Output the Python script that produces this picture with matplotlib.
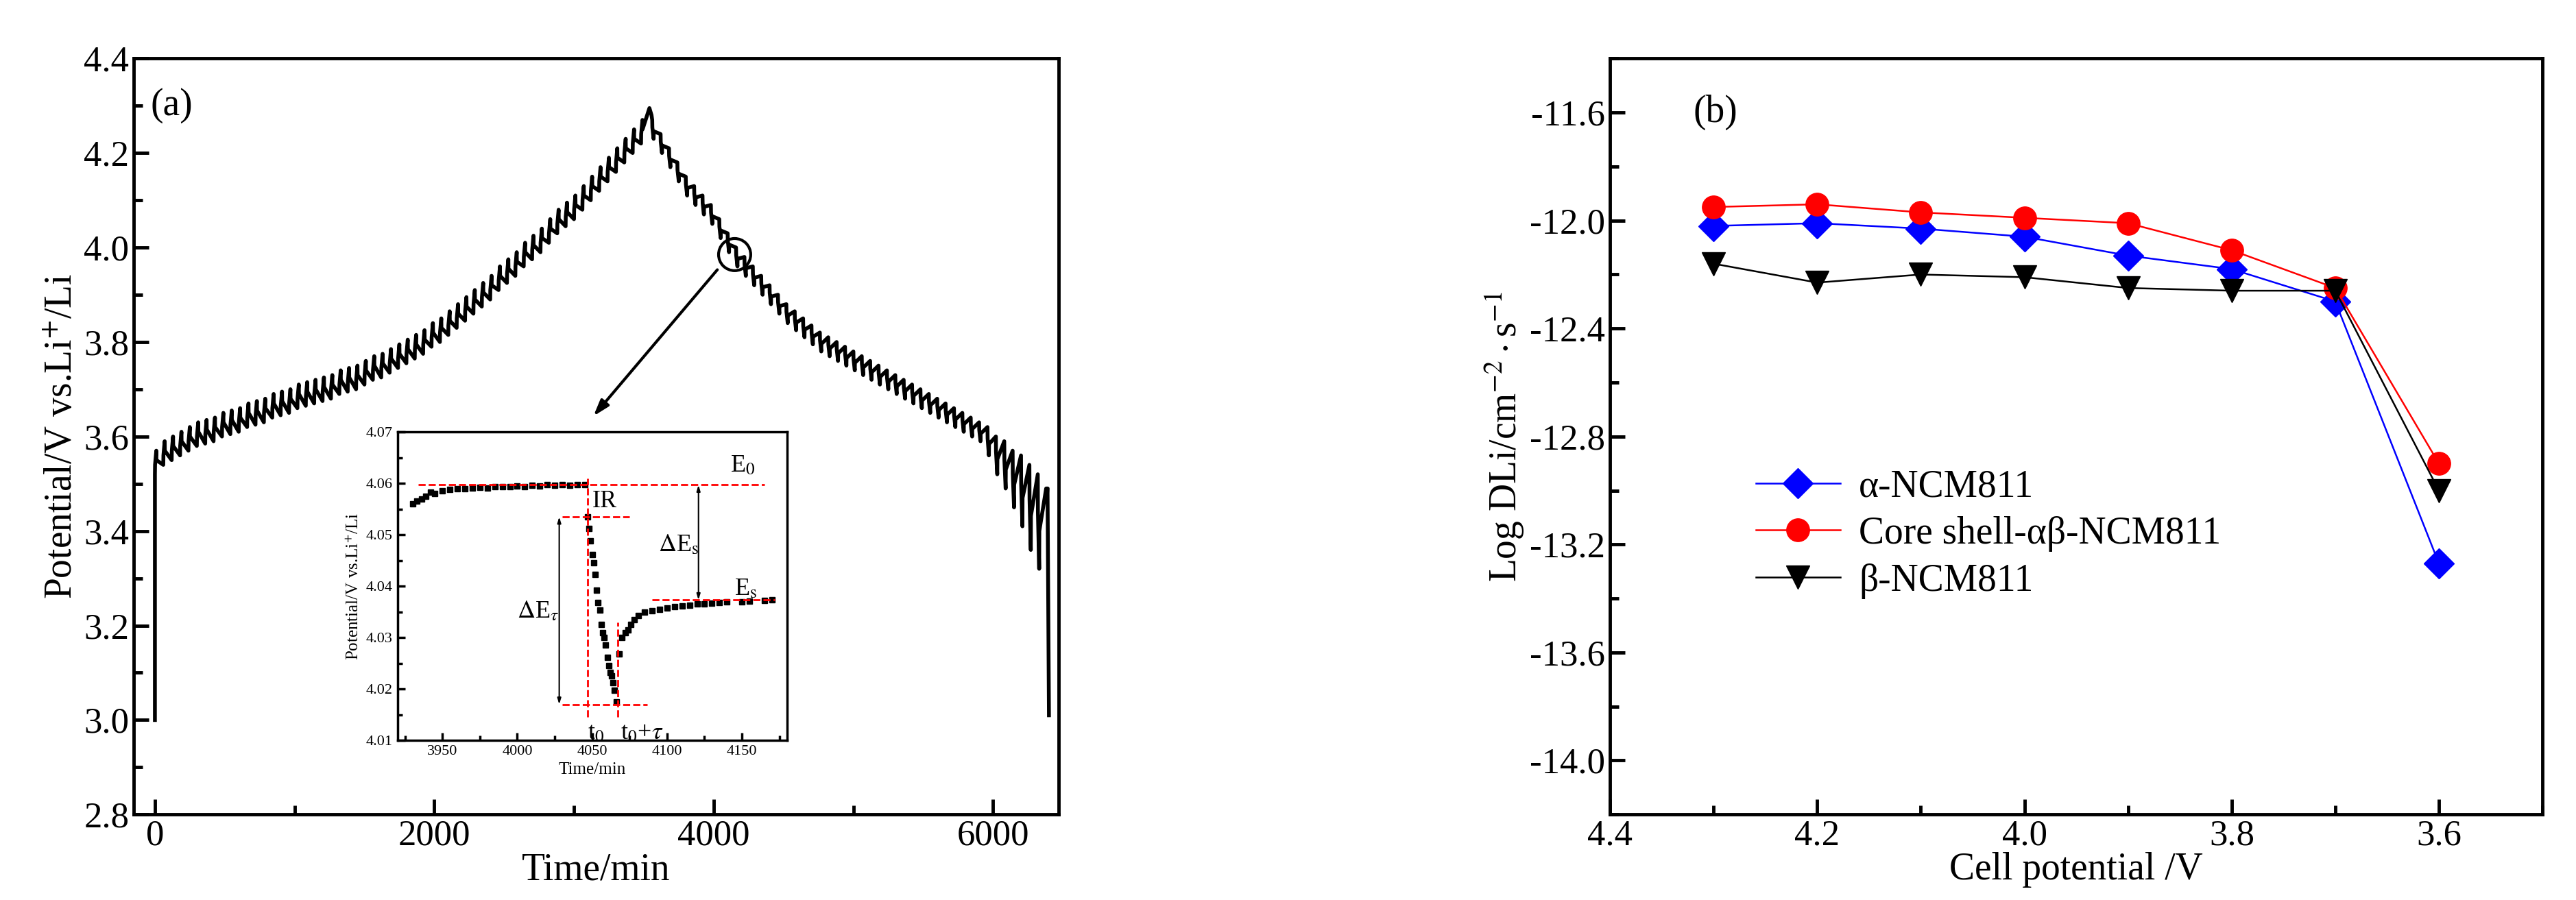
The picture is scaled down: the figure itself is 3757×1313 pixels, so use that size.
import numpy as np
import matplotlib.pyplot as plt
from matplotlib.patches import Ellipse
from matplotlib.ticker import MultipleLocator

plt.rcParams['font.family'] = ['Liberation Serif', 'DejaVu Serif']
plt.rcParams['mathtext.fontset'] = 'stix'
plt.rcParams['axes.unicode_minus'] = False

# (a) GITT: relaxed potential at the start of each pulse
charge_start = 0
pulse_period = 60
charge_v = [3.52, 3.54, 3.55, 3.56, 3.57, 3.58, 3.585, 3.59, 3.60, 3.605,
            3.61, 3.62, 3.625, 3.63, 3.64, 3.645, 3.65, 3.66, 3.665, 3.67,
            3.675, 3.68, 3.69, 3.695, 3.70, 3.71, 3.72, 3.725, 3.735, 3.745,
            3.755, 3.765, 3.775, 3.79, 3.80, 3.815, 3.83, 3.845, 3.86, 3.875,
            3.89, 3.91, 3.925, 3.94, 3.96, 3.975, 3.99, 4.01, 4.03, 4.045,
            4.06, 4.08, 4.10, 4.12, 4.14, 4.16, 4.18, 4.20, 4.22]
discharge_start = 3560
discharge_v = [4.27, 4.24, 4.21, 4.18, 4.15, 4.13, 4.11, 4.09, 4.06, 4.03,
               4.00, 3.98, 3.96, 3.94, 3.92, 3.90, 3.88, 3.865, 3.85, 3.835,
               3.82, 3.81, 3.80, 3.79, 3.78, 3.77, 3.76, 3.75, 3.74, 3.73,
               3.72, 3.71, 3.70, 3.69, 3.68, 3.67, 3.66, 3.65, 3.64, 3.63,
               3.62, 3.60, 3.59, 3.57, 3.56, 3.54, 3.52, 3.49]
discharge_depth = [0.04] * 40 + [0.06, 0.08, 0.10, 0.12, 0.15, 0.18, 0.20, 0.0]

# inset data
t_rest1 = [3930, 3933, 3936, 3939, 3942, 3945, 3950, 3955, 3960, 3965, 3970, 3975, 3980,
           3985, 3990, 3995, 4000, 4005, 4010, 4015, 4020, 4025, 4030, 4035, 4040, 4045]
v_rest1 = [4.0560, 4.0566, 4.0570, 4.0575, 4.0583, 4.0580, 4.0585, 4.0588, 4.0590, 4.0590,
           4.0591, 4.0592, 4.0591, 4.0593, 4.0594, 4.0594, 4.0595, 4.0594, 4.0596, 4.0595,
           4.0597, 4.0596, 4.0598, 4.0596, 4.0597, 4.0597]
t_pulse = list(range(4047, 4067))
v_pulse = [4.0535, 4.0512, 4.0488, 4.0462, 4.0445, 4.0423, 4.0392, 4.0368, 4.0353, 4.0325,
           4.0310, 4.0300, 4.0285, 4.0262, 4.0245, 4.0232, 4.0225, 4.0212, 4.0198, 4.0175]
t_rest2 = [4068, 4070, 4072, 4074, 4076, 4078, 4081, 4085, 4090, 4095, 4100, 4105, 4110,
           4115, 4120, 4125, 4130, 4135, 4140, 4150, 4155, 4165, 4170]
v_rest2 = [4.0268, 4.0300, 4.0310, 4.0315, 4.0325, 4.0335, 4.0343, 4.0350, 4.0352, 4.0355,
           4.0357, 4.0360, 4.0362, 4.0363, 4.0365, 4.0366, 4.0367, 4.0368, 4.0369, 4.0370,
           4.0371, 4.0372, 4.0373]

# (b) diffusion coefficients
cell_v = [4.3, 4.2, 4.1, 4.0, 3.9, 3.8, 3.7, 3.6]
d_alpha = [-12.02, -12.01, -12.03, -12.06, -12.13, -12.18, -12.30, -13.27]
d_core = [-11.95, -11.94, -11.97, -11.99, -12.01, -12.11, -12.25, -12.90]
d_beta = [-12.16, -12.23, -12.20, -12.21, -12.25, -12.26, -12.26, -13.00]

# build the step curve
tt, vv = [0, 0], [3.0, charge_v[0]]
for i, v in enumerate(charge_v):
    t = charge_start + i * pulse_period
    tt += [t, t + 1, t + 10, t + 11]
    vv += [v, v + 0.02, v + 0.05, v + 0.03]
tt += [3540, 3555]
vv += [4.295, 4.28]
for i, v in enumerate(discharge_v):
    t = discharge_start + i * pulse_period
    d = discharge_depth[i]
    tt += [t, t + 1, t + 10, t + 11]
    vv += [v, v - d * 0.4, v - d, v - d * 0.6]
tt += [6390, 6400]
vv += [3.48, 3.01]

fig = plt.figure(figsize=(37.57, 13.13), dpi=100)
ax1 = fig.add_axes([0.052, 0.095, 0.359, 0.84])
ax2 = fig.add_axes([0.625, 0.095, 0.362, 0.84])

def style(ax, fs=38, lw=3.5, ml=16, pad=5):
    for s in ax.spines.values():
        s.set_linewidth(lw)
    ax.tick_params(which='both', direction='in', width=lw, labelsize=fs, pad=pad)
    ax.tick_params(which='major', length=ml)
    ax.tick_params(which='minor', length=ml * 0.6)

ax1.plot(tt, vv, color='black', lw=4)
ax1.set_xlim(-150, 6470)
ax1.set_ylim(2.8, 4.4)
ax1.xaxis.set_major_locator(MultipleLocator(2000))
ax1.xaxis.set_minor_locator(MultipleLocator(1000))
ax1.yaxis.set_major_locator(MultipleLocator(0.2))
ax1.yaxis.set_minor_locator(MultipleLocator(0.1))
ax1.yaxis.set_major_formatter('{x:.1f}')
style(ax1)
ax1.set_xlabel('Time/min', fontsize=40, labelpad=0)
ax1.set_ylabel('Potential/V vs.Li$^{+}$/Li', fontsize=40, labelpad=4)
ax1.text(-30, 4.3, '(a)', fontsize=40, va='center')
ax1.add_patch(Ellipse((4150, 3.985), 230, 0.068, fill=False, lw=3))
ax1.annotate('', xy=(3130, 3.64), xytext=(4035, 3.956),
             arrowprops=dict(arrowstyle='-|>,head_length=1.4,head_width=0.45', lw=3, color='black'))

ins = ax1.inset_axes([0.285, 0.098, 0.421, 0.408])
ins.plot(t_rest1, v_rest1, 's', color='black', ms=6)
ins.plot(t_pulse, v_pulse, 's', color='black', ms=6)
ins.plot(t_rest2, v_rest2, 's', color='black', ms=6)
red = dict(color='red', ls='--', lw=2)
ins.plot([3934, 4165], [4.0597, 4.0597], **red)
ins.plot([4030, 4075], [4.0535, 4.0535], **red)
ins.plot([4030, 4087], [4.0170, 4.0170], **red)
ins.plot([4047, 4047], [4.0145, 4.0610], **red)
ins.plot([4067, 4067], [4.0145, 4.0330], **red)
ins.plot([4090, 4172], [4.0373, 4.0373], **red)
arr = dict(arrowstyle='<|-|>,head_length=0.5,head_width=0.15', lw=1.5, color='black', shrinkA=0, shrinkB=0)
ins.annotate('', xy=(4028, 4.0170), xytext=(4028, 4.0535), arrowprops=arr)
ins.annotate('', xy=(4121, 4.0373), xytext=(4121, 4.0597), arrowprops=arr)
ins.text(4142, 4.0622, r'E$_0$', fontsize=26)
ins.text(4050, 4.0553, 'IR', fontsize=26)
ins.text(4094, 4.0468, r'$\Delta$E$_\mathrm{s}$', fontsize=26)
ins.text(4145, 4.0383, r'E$_\mathrm{s}$', fontsize=26)
ins.text(4000, 4.0338, r'$\Delta$E$_\tau$', fontsize=26)
ins.text(4047, 4.0103, r't$_0$', fontsize=26)
ins.text(4069, 4.0103, r't$_0$+$\tau$', fontsize=26)
ins.set_xlim(3920, 4180)
ins.set_ylim(4.01, 4.07)
ins.xaxis.set_major_locator(MultipleLocator(50))
ins.xaxis.set_minor_locator(MultipleLocator(25))
ins.yaxis.set_major_locator(MultipleLocator(0.01))
ins.yaxis.set_minor_locator(MultipleLocator(0.005))
ins.yaxis.set_major_formatter('{x:.2f}')
style(ins, fs=16, lw=2.5, ml=8, pad=5)
ins.set_xlabel('Time/min', fontsize=18)
ins.set_ylabel('Potential/V vs.Li$^{+}$/Li', fontsize=18)

ax2.plot(cell_v, d_alpha, '-D', color='blue', lw=1.8, ms=22, label='α-NCM811')
ax2.plot(cell_v, d_core, '-o', color='red', lw=1.8, ms=24, label='Core shell-αβ-NCM811')
ax2.plot(cell_v, d_beta, '-v', color='black', lw=1.8, ms=24, label='β-NCM811')
ax2.set_xlim(4.4, 3.5)
ax2.set_ylim(-14.2, -11.4)
ax2.xaxis.set_major_locator(MultipleLocator(0.2))
ax2.xaxis.set_minor_locator(MultipleLocator(0.1))
ax2.yaxis.set_major_locator(MultipleLocator(0.4))
ax2.yaxis.set_minor_locator(MultipleLocator(0.2))
ax2.xaxis.set_major_formatter('{x:.1f}')
ax2.yaxis.set_major_formatter('{x:.1f}')
style(ax2)
ax2.set_xlabel('Cell potential /V', fontsize=40, labelpad=0)
ax2.set_ylabel(r'Log DLi/cm$^{-2}\cdot$s$^{-1}$', fontsize=40, labelpad=4)
ax2.text(4.32, -11.6, '(b)', fontsize=40, va='center')
ax2.legend(loc='lower left', bbox_to_anchor=(0.12, 0.24), frameon=False, fontsize=40,
           handlelength=2.2, handletextpad=0.5, labelspacing=0.3)

fig.savefig('out.png', dpi=100)
